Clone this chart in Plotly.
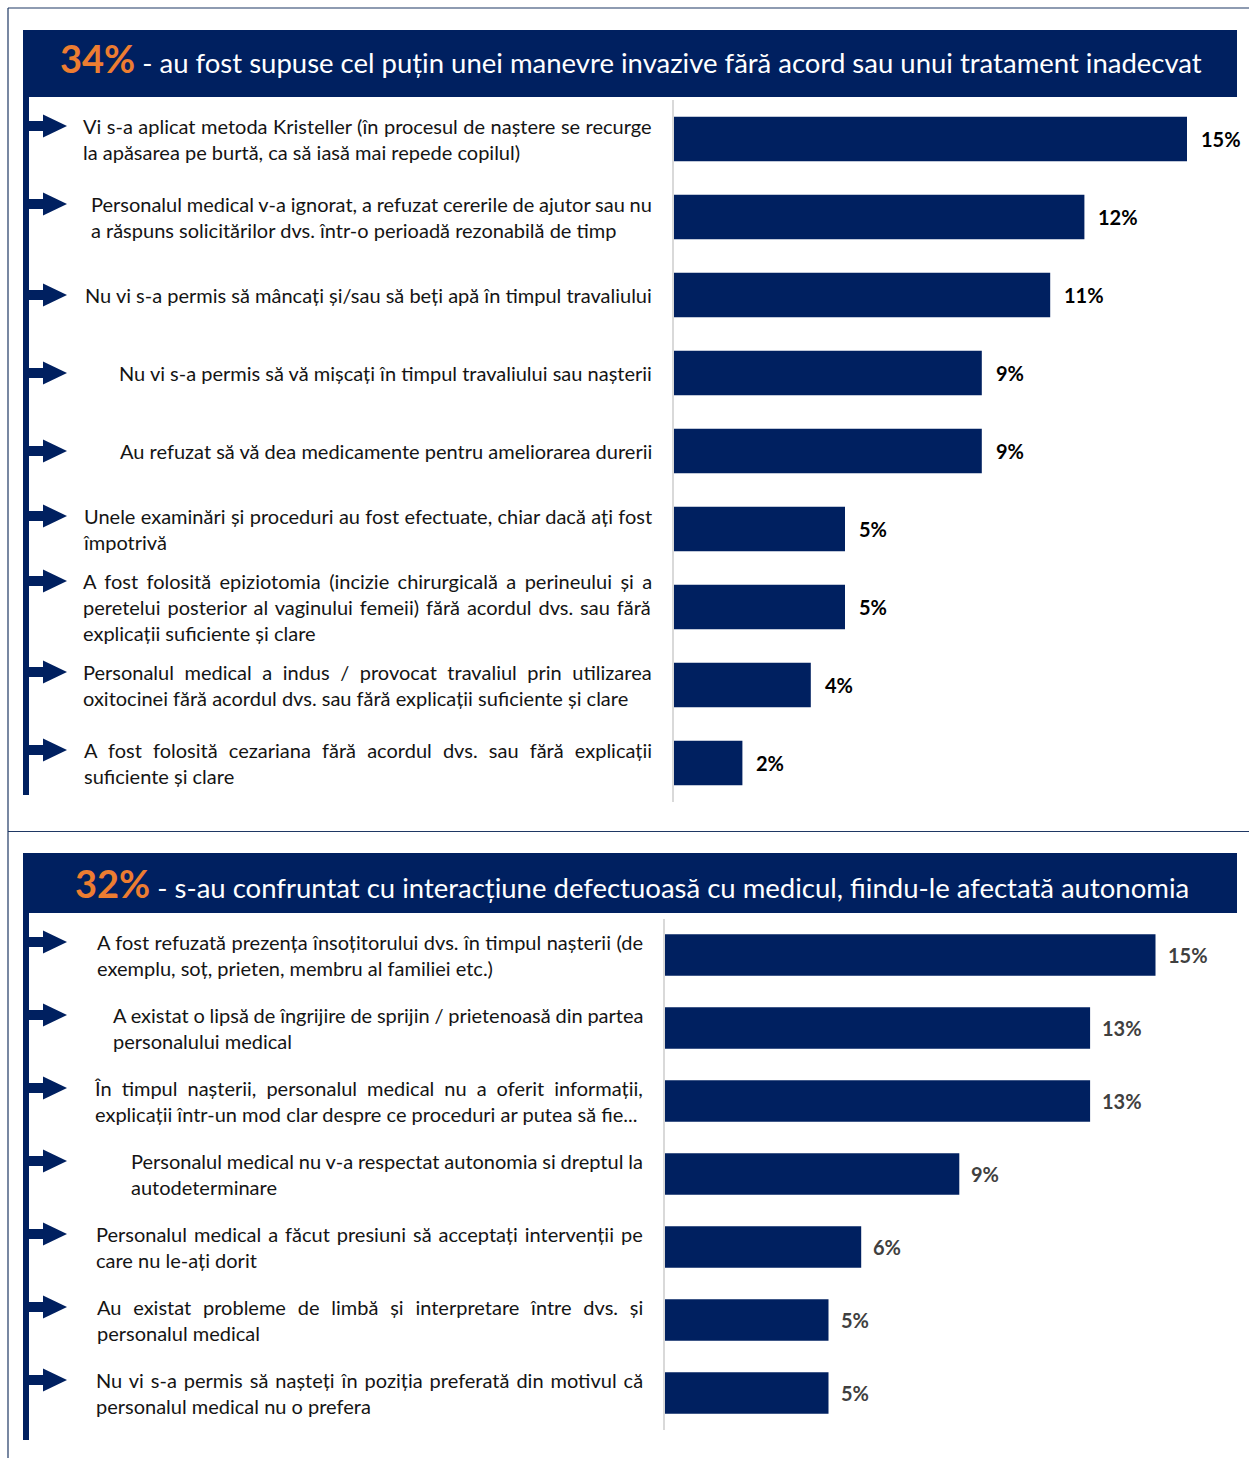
import glob
import struct

import plotly.graph_objects as go

W, H = 1249, 1458
NAVY = "#002060"
ORANGE = "#ED7D31"
FONT = "Lato"
LABEL_SIZE = 20

# ---- panel 1: invasive manoeuvres / inadequate treatment ----
title1_pct = "34%"
title1_text = " - au fost supuse cel puțin unei manevre invazive fără acord sau unui tratament inadecvat"
labels1 = [
    ["Vi s-a aplicat metoda Kristeller (în procesul de naștere se recurge",
     "la apăsarea pe burtă, ca să iasă mai repede copilul)"],
    ["Personalul medical v-a ignorat, a refuzat cererile de ajutor sau nu",
     "a răspuns solicitărilor dvs. într-o perioadă rezonabilă de timp"],
    ["Nu vi s-a permis să mâncați și/sau să beți apă în timpul travaliului"],
    ["Nu vi s-a permis să vă mișcați în timpul travaliului sau nașterii"],
    ["Au refuzat să vă dea medicamente pentru ameliorarea durerii"],
    ["Unele examinări și proceduri au fost efectuate, chiar dacă ați fost",
     "împotrivă"],
    ["A fost folosită epiziotomia (incizie chirurgicală a perineului și a",
     "peretelui posterior al vaginului femeii) fără acordul dvs. sau fără",
     "explicații suficiente și clare"],
    ["Personalul medical a indus / provocat travaliul prin utilizarea",
     "oxitocinei fără acordul dvs. sau fără explicații suficiente și clare"],
    ["A fost folosită cezariana fără acordul dvs. sau fără explicații",
     "suficiente și clare"],
]
values1 = [15, 12, 11, 9, 9, 5, 5, 4, 2]
value_text1 = ["15%", "12%", "11%", "9%", "9%", "5%", "5%", "4%", "2%"]

# ---- panel 2: defective interaction with the doctor ----
title2_pct = "32%"
title2_text = " - s-au confruntat cu interacțiune defectuoasă cu medicul, fiindu-le afectată autonomia"
labels2 = [
    ["A fost refuzată prezența însoțitorului dvs. în timpul nașterii (de",
     "exemplu, soț, prieten, membru al familiei etc.)"],
    ["A existat o lipsă de îngrijire de sprijin / prietenoasă din partea",
     "personalului medical"],
    ["În timpul nașterii, personalul medical nu a oferit informații,",
     "explicații într-un mod clar despre ce proceduri ar putea să fie..."],
    ["Personalul medical nu v-a respectat autonomia si dreptul la",
     "autodeterminare"],
    ["Personalul medical a făcut presiuni să acceptați intervenții pe",
     "care nu le-ați dorit"],
    ["Au existat probleme de limbă și interpretare între dvs. și",
     "personalul medical"],
    ["Nu vi s-a permis să nașteți în poziția preferată din motivul că",
     "personalul medical nu o prefera"],
]
values2 = [15, 13, 13, 9, 6, 5, 5]
value_text2 = ["15%", "13%", "13%", "9%", "6%", "5%", "5%"]

# paragraph box widths (px) used for justified lines; None = no justification
box_w1 = [571, 564, None, None, None, 571, 571, 571, 571]
box_w2 = [549, 532, 549, 514, 549, 549, 549]


def load_metrics(name):
    """Advance widths (in em) for the regular face of a TrueType font."""
    paths = []
    for root in ("/usr/share/fonts", "/usr/local/share/fonts", "/root/.fonts"):
        paths += glob.glob(f"{root}/**/{name}", recursive=True)
    for p in paths:
        try:
            data = open(p, "rb").read()
            num = struct.unpack(">H", data[4:6])[0]
            tables = {}
            for i in range(num):
                tag, _, off, ln = struct.unpack(">4sIII", data[12 + 16 * i:28 + 16 * i])
                tables[tag.decode("latin-1")] = off
            upem = struct.unpack(">H", data[tables["head"] + 18:tables["head"] + 20])[0]
            nhm = struct.unpack(">H", data[tables["hhea"] + 34:tables["hhea"] + 36])[0]
            hoff = tables["hmtx"]
            adv = [struct.unpack(">H", data[hoff + 4 * i:hoff + 4 * i + 2])[0] for i in range(nhm)]
            coff = tables["cmap"]
            nsub = struct.unpack(">H", data[coff + 2:coff + 4])[0]
            for i in range(nsub):
                pid, eid, soff = struct.unpack(">HHI", data[coff + 4 + 8 * i:coff + 12 + 8 * i])
                so = coff + soff
                if struct.unpack(">H", data[so:so + 2])[0] != 4:
                    continue
                segx2 = struct.unpack(">H", data[so + 6:so + 8])[0]
                seg = segx2 // 2
                ends = struct.unpack(f">{seg}H", data[so + 14:so + 14 + segx2])
                starts = struct.unpack(f">{seg}H", data[so + 16 + segx2:so + 16 + 2 * segx2])
                deltas = struct.unpack(f">{seg}h", data[so + 16 + 2 * segx2:so + 16 + 3 * segx2])
                ro_pos = so + 16 + 3 * segx2
                ros = struct.unpack(f">{seg}H", data[ro_pos:ro_pos + segx2])

                def glyph(c):
                    for s in range(seg):
                        if starts[s] <= c <= ends[s]:
                            if ros[s] == 0:
                                return (c + deltas[s]) & 0xFFFF
                            gi = ro_pos + 2 * s + ros[s] + 2 * (c - starts[s])
                            g = struct.unpack(">H", data[gi:gi + 2])[0]
                            return (g + deltas[s]) & 0xFFFF if g else 0
                    return 0

                def width(text):
                    tot = 0
                    for ch in text:
                        g = glyph(ord(ch))
                        tot += adv[min(g, nhm - 1)]
                    return tot / upem

                return width
        except Exception:
            continue
    return None


text_width = load_metrics("Lato-Regular.ttf")


def paragraph(lines, box_w):
    """Join lines; non-final lines are stretched to box_w via word spacing."""
    out = []
    for k, line in enumerate(lines):
        last = k == len(lines) - 1
        gaps = line.count(" ")
        if box_w and not last and text_width and gaps:
            natural = text_width(line) * LABEL_SIZE
            ws = (box_w - natural) / gaps
            out.append(f"<span style='word-spacing:{ws:.2f}px'>{line}</span>")
        else:
            out.append(line)
    return "<br>".join(out)


def px(x):
    return x / W


def py(y):
    return 1 - y / H


# panel geometry in page pixels
P1 = dict(band=(30, 97), title_y=58.5, plot_top=100, plot_bot=802, bar_x0=674, scale=34.2,
          text_right=654, title_x=58, rail=(97, 795), xa="x", ya="y",
          val_color="#000000", val_shift=12, title_size=27.5)
P2 = dict(band=(853, 913), title_y=883, plot_top=918.5, plot_bot=1429.5, bar_x0=665,
          scale=32.7, text_right=645, title_x=73, rail=(913, 1440), xa="x2", ya="y2",
          val_color="#404040", val_shift=10, title_size=27.5)

LINE_H = 1.3 * LABEL_SIZE
fig = go.Figure()
shapes = []
annotations = []

# page frame
frame = dict(type="line", xref="paper", yref="paper", line=dict(color="#1F3864", width=1.2))
shapes.append(dict(frame, x0=px(8), x1=1, y0=py(8), y1=py(8)))
shapes.append(dict(frame, x0=px(8), x1=px(8), y0=py(8), y1=0))
shapes.append(dict(frame, x0=px(8), x1=1, y0=py(831.5), y1=py(831.5)))


def add_panel(P, pct, title, labels, values, vtexts, box_w):
    cats = [" ".join(l) for l in labels]
    n = len(cats)
    xa, ya = P["xa"], P["ya"]
    fig.add_trace(go.Bar(
        x=values, y=cats, orientation="h", xaxis=xa, yaxis=ya,
        marker=dict(color=NAVY, line=dict(width=0)), width=0.57,
        hoverinfo="skip", showlegend=False,
    ))
    x_span = (W - P["bar_x0"]) / P["scale"]
    ax_name = "xaxis" if xa == "x" else "xaxis" + xa[1:]
    ay_name = "yaxis" if ya == "y" else "yaxis" + ya[1:]
    fig.layout[ax_name] = dict(domain=[px(P["bar_x0"]), 1], range=[0, x_span],
                               visible=False, fixedrange=True, anchor=ya)
    fig.layout[ay_name] = dict(domain=[py(P["plot_bot"]), py(P["plot_top"])],
                               type="category", categoryorder="array", categoryarray=cats,
                               range=[n - 0.5, -0.5], showticklabels=False, ticks="",
                               showgrid=False, zeroline=False, showline=True,
                               linecolor="#D9D9D9", linewidth=2, anchor=xa,
                               fixedrange=True)

    # header band with title
    b0, b1 = P["band"]
    shapes.append(dict(type="rect", xref="paper", yref="paper", x0=px(23), x1=px(1237),
                       y0=py(b1), y1=py(b0), fillcolor=NAVY, line=dict(width=0), layer="below"))
    annotations.append(dict(
        xref="paper", yref="paper", x=px(P["title_x"]), y=py(P["title_y"]),
        xanchor="left", yanchor="middle", showarrow=False,
        text=f"<b><span style='color:{ORANGE};font-size:38px'>{pct}</span></b>{title}",
        font=dict(family=FONT, size=P["title_size"], color="white"),
    ))

    # left rail
    r0, r1 = P["rail"]
    shapes.append(dict(type="rect", xref="paper", yref="paper", x0=px(23), x1=px(29),
                       y0=py(r1), y1=py(r0), fillcolor=NAVY, line=dict(width=0)))

    step = (P["plot_bot"] - P["plot_top"]) / n
    for i, (cat, lines) in enumerate(zip(cats, labels)):
        annotations.append(dict(
            xref="paper", yref=ya, x=px(P["text_right"]), y=cat,
            xanchor="right", yanchor="middle", align="left", showarrow=False,
            text=paragraph(lines, box_w[i]),
            font=dict(family=FONT, size=LABEL_SIZE, color="#141414"),
        ))
        # arrow marker next to the first line of each item
        yc = P["plot_top"] + step * (i + 0.5) - (len(lines) - 1) * LINE_H / 2
        shapes.append(dict(type="rect", xref="paper", yref="paper", x0=px(29), x1=px(44),
                           y0=py(yc + 5), y1=py(yc - 5), fillcolor=NAVY, line=dict(width=0)))
        path = (f"M {px(43)} {py(yc - 11.5)} L {px(67)} {py(yc)} "
                f"L {px(43)} {py(yc + 11.5)} Z")
        shapes.append(dict(type="path", xref="paper", yref="paper", path=path,
                           fillcolor=NAVY, line=dict(width=0)))

    for cat, v, t in zip(cats, values, vtexts):
        annotations.append(dict(
            xref=xa, yref=ya, x=v, y=cat, xanchor="left", yanchor="middle",
            xshift=P["val_shift"], showarrow=False, text=f"<b>{t}</b>",
            font=dict(family=FONT, size=20, color=P["val_color"]),
        ))


add_panel(P1, title1_pct, title1_text, labels1, values1, value_text1, box_w1)
add_panel(P2, title2_pct, title2_text, labels2, values2, value_text2, box_w2)

fig.update_layout(
    width=W, height=H, margin=dict(l=0, r=0, t=0, b=0),
    paper_bgcolor="white", plot_bgcolor="white",
    shapes=shapes, annotations=annotations, showlegend=False,
    font=dict(family=FONT),
)

fig.write_html("out.html", config={"displayModeBar": False})
